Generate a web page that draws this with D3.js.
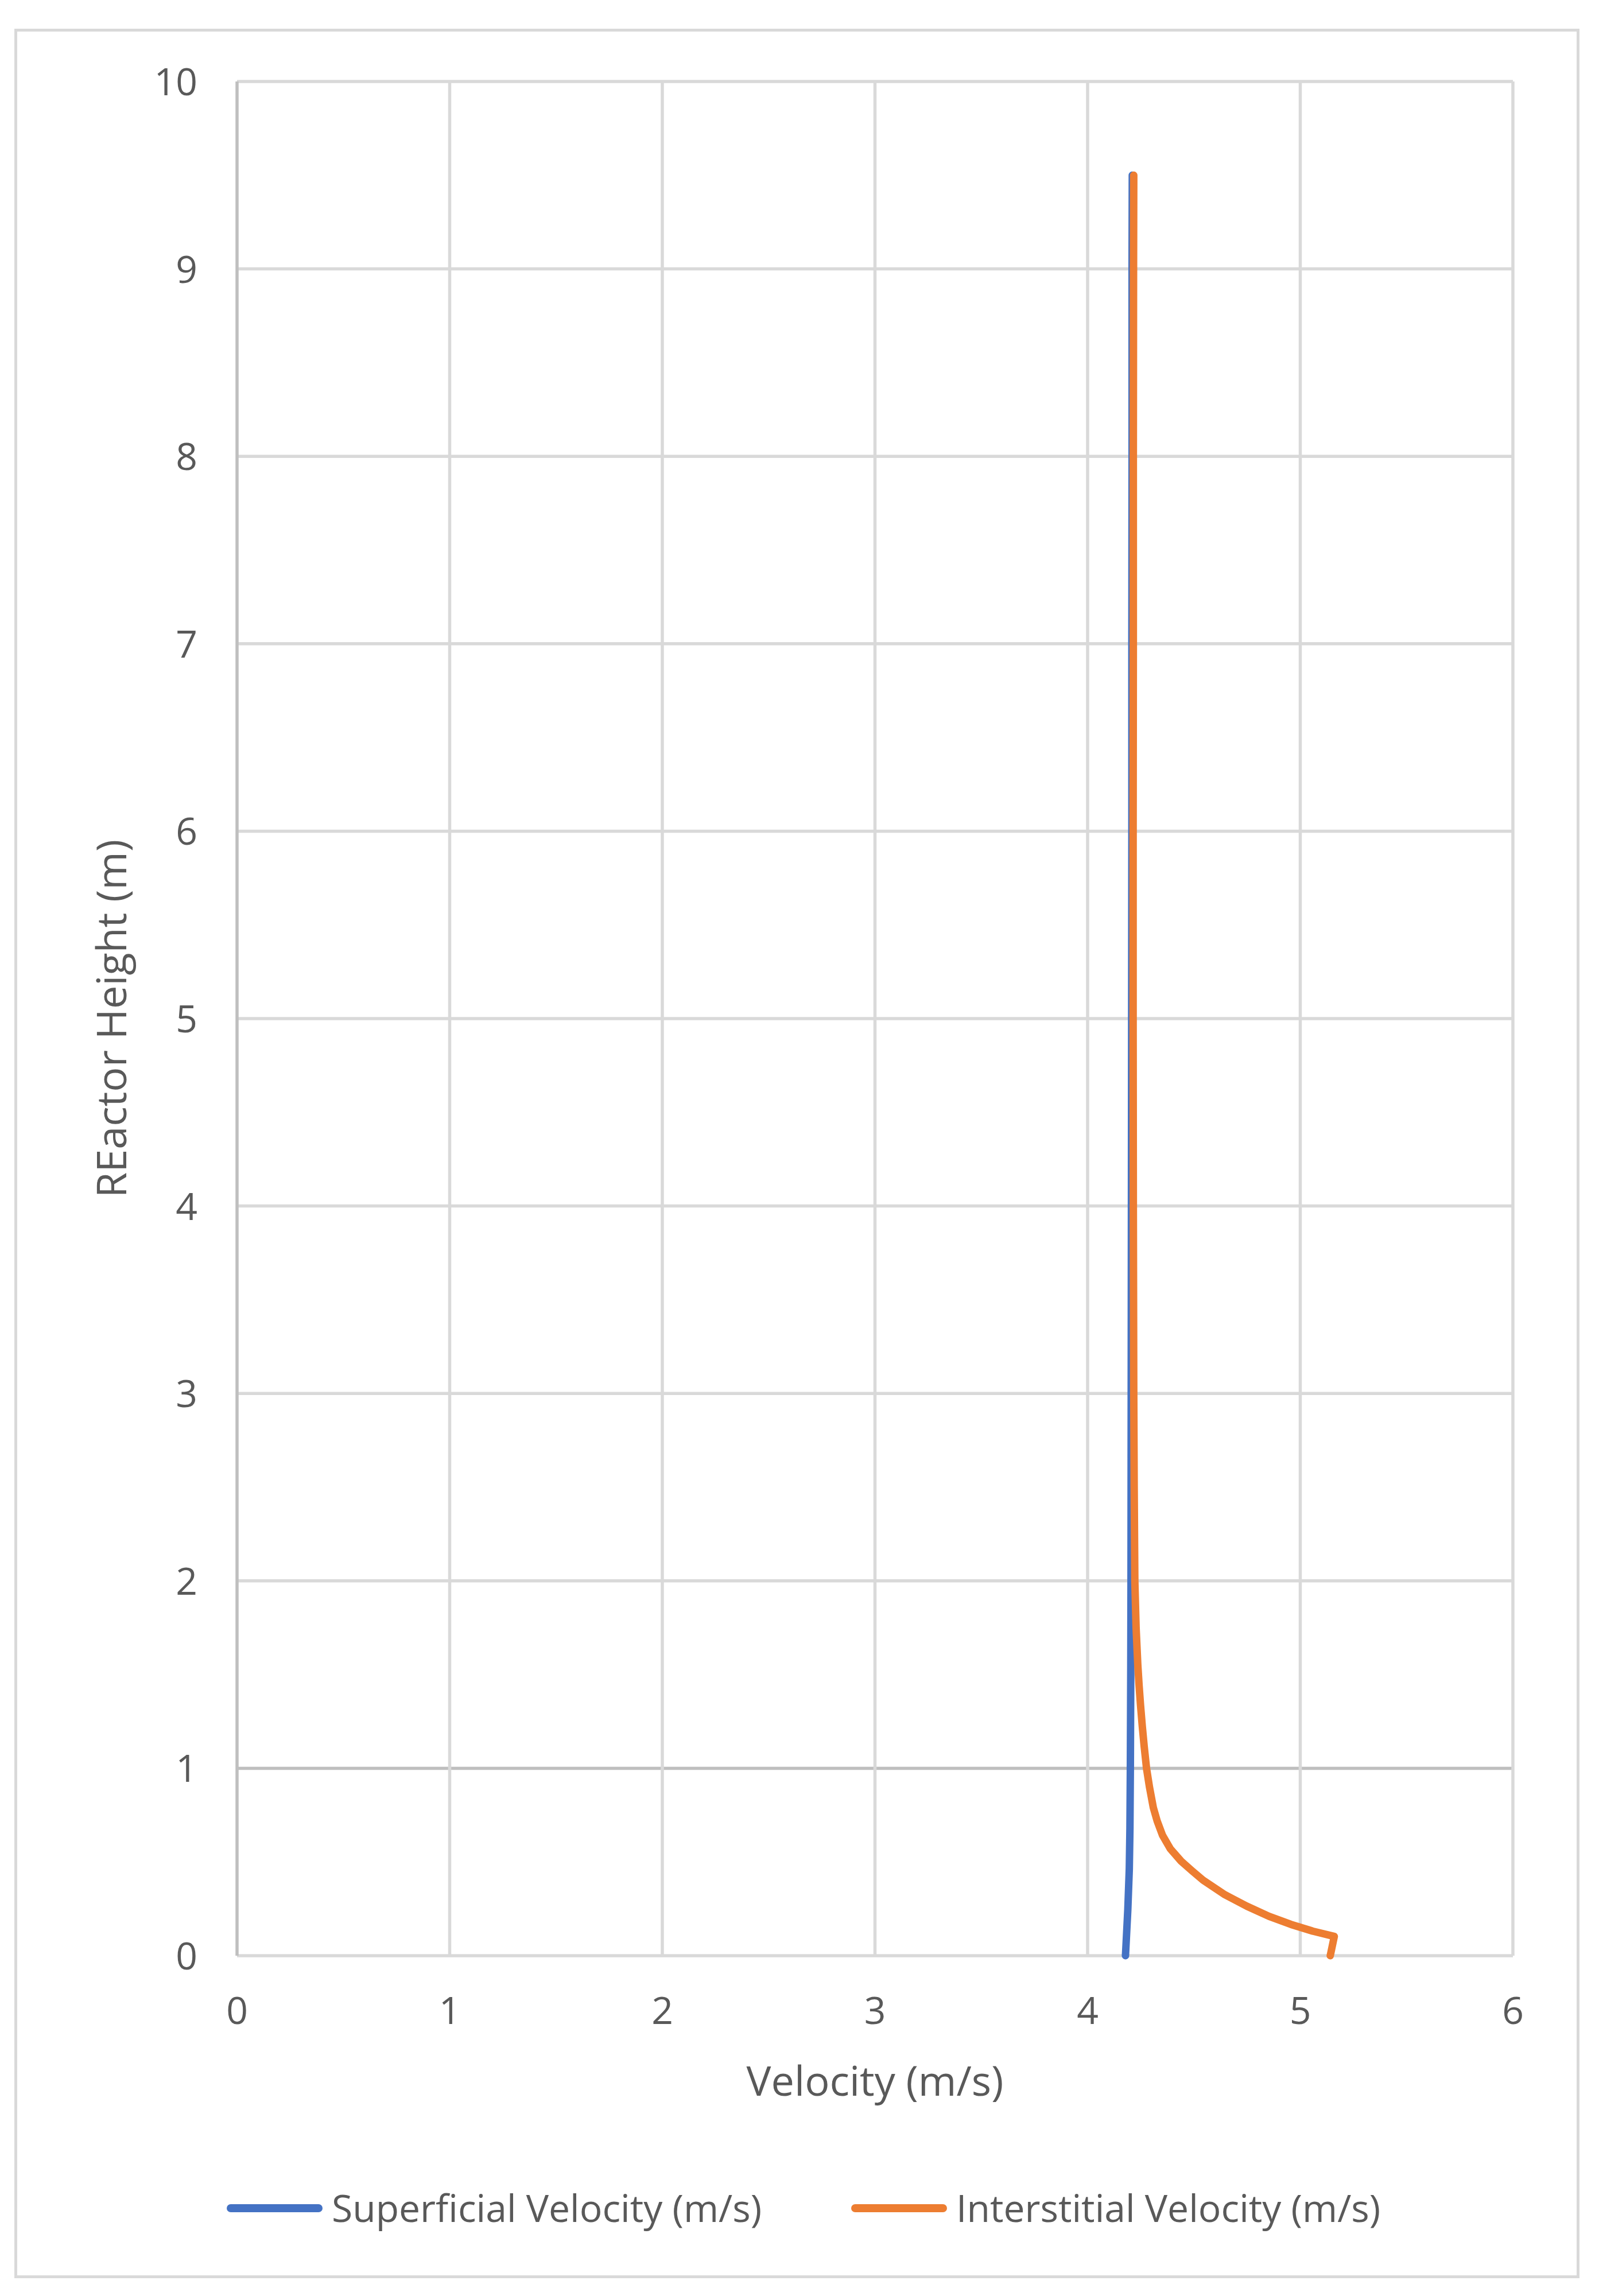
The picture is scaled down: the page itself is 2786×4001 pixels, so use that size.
<!DOCTYPE html>
<html>
<head>
<meta charset="utf-8">
<script src="https://cdn.jsdelivr.net/npm/d3@7"></script>
<style>
  html, body { margin: 0; padding: 0; background: #ffffff; }
  svg { display: block; }
  text { font-family: "Open Sans", sans-serif; fill: #595959; }
</style>
</head>
<body>
<svg id="chart" width="2786" height="4001"></svg>
<script>
// ---- data ----
const xTicks = [0, 1, 2, 3, 4, 5, 6];
const yTicks = [0, 1, 2, 3, 4, 5, 6, 7, 8, 9, 10];

const superficialHeight = [0, 0.245, 0.463, 0.681, 1.008, 1.552, 2, 3, 4, 5, 6, 7, 8, 9, 9.5];
const superficialVelocity = [4.178, 4.189, 4.196, 4.199, 4.201, 4.203, 4.204, 4.205, 4.206, 4.207, 4.208, 4.208, 4.209, 4.209, 4.210];

const interstitialHeight = [0, 0.103, 0.131, 0.167, 0.210, 0.264, 0.325, 0.403, 0.452, 0.504, 0.570, 0.643, 0.719, 0.790, 0.899, 1.0, 1.117, 1.225, 1.334, 1.443, 1.552, 1.75, 2, 2.5, 3, 4, 5, 6, 7, 8, 9, 9.5];
const interstitialVelocity = [5.141, 5.160, 5.059, 4.956, 4.853, 4.749, 4.646, 4.543, 4.492, 4.440, 4.389, 4.352, 4.327, 4.309, 4.291, 4.277, 4.266, 4.257, 4.249, 4.242, 4.236, 4.228, 4.222, 4.219, 4.217, 4.215, 4.214, 4.214, 4.215, 4.215, 4.216, 4.217];

const seriesNames = ["Superficial Velocity (m/s)", "Interstitial Velocity (m/s)"];
const seriesColors = ["#4472C4", "#ED7D31"];
const xTitle = "Velocity (m/s)";
const yTitle = "REactor Height (m)";

// ---- layout ----
const svg = d3.select("#chart");
const pLeft = 413, pRight = 2636, pTop = 142, pBottom = 3408;
const x = d3.scaleLinear().domain([0, 6]).range([pLeft, pRight]);
const y = d3.scaleLinear().domain([0, 10]).range([pBottom, pTop]);

// outer chart border
svg.append("rect")
  .attr("x", 27.5).attr("y", 52.5).attr("width", 2722).attr("height", 3915)
  .attr("fill", "#ffffff").attr("stroke", "#D9D9D9").attr("stroke-width", 5);

// gridlines
const grid = svg.append("g");
grid.append("g").selectAll("line").data(yTicks).join("line")
  .attr("x1", pLeft).attr("x2", pRight)
  .attr("y1", d => y(d)).attr("y2", d => y(d))
  .attr("stroke", d => d === 1 ? "#BFBFBF" : "#D9D9D9")
  .attr("stroke-width", 5.5);
grid.append("g").selectAll("line").data(xTicks).join("line")
  .attr("y1", pTop).attr("y2", pBottom)
  .attr("x1", d => x(d)).attr("x2", d => x(d))
  .attr("stroke", d => d === 0 ? "#BFBFBF" : "#D9D9D9")
  .attr("stroke-width", 5.5);

// tick labels
svg.append("g").selectAll("text").data(xTicks).join("text")
  .attr("x", d => x(d)).attr("y", 3527)
  .attr("text-anchor", "middle").attr("font-size", 66)
  .text(d => d);
svg.append("g").selectAll("text").data(yTicks).join("text")
  .attr("x", 344).attr("y", d => y(d) + 24)
  .attr("text-anchor", "end").attr("font-size", 66)
  .text(d => d);

// axis titles
svg.append("text").attr("x", (pLeft + pRight) / 2).attr("y", 3652)
  .attr("text-anchor", "middle").attr("font-size", 72).text(xTitle);
svg.append("text")
  .attr("transform", `translate(220, ${(pTop + pBottom) / 2}) rotate(-90)`)
  .attr("text-anchor", "middle").attr("font-size", 72).text(yTitle);

// series lines
const line = d3.line().x(d => x(d[0])).y(d => y(d[1])).curve(d3.curveLinear);
const series = [
  d3.zip(superficialVelocity, superficialHeight),
  d3.zip(interstitialVelocity, interstitialHeight)
];
svg.append("g").selectAll("path").data(series).join("path")
  .attr("d", line)
  .attr("fill", "none")
  .attr("stroke", (d, i) => seriesColors[i])
  .attr("stroke-width", 13)
  .attr("stroke-linejoin", "round")
  .attr("stroke-linecap", "round");

// legend
const legendX = [395, 1483];
const lg = svg.append("g").selectAll("g").data(seriesNames).join("g");
lg.append("line")
  .attr("x1", (d, i) => legendX[i] + 7).attr("x2", (d, i) => legendX[i] + 160)
  .attr("y1", 3848).attr("y2", 3848)
  .attr("stroke", (d, i) => seriesColors[i])
  .attr("stroke-width", 14).attr("stroke-linecap", "round");
lg.append("text")
  .attr("x", (d, i) => legendX[i] + 183).attr("y", 3872)
  .attr("font-size", 66).text(d => d);
</script>
</body>
</html>
